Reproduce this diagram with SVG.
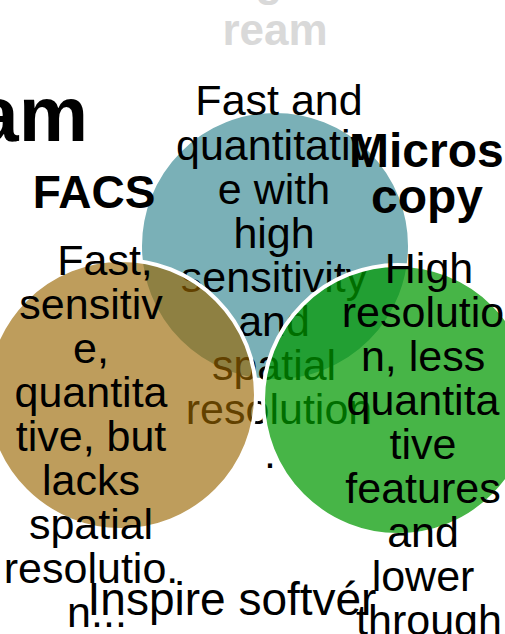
<svg xmlns="http://www.w3.org/2000/svg" width="505" height="634" viewBox="0 0 505 634">
<style>
  .t { font-family: "Liberation Sans", Arial, sans-serif; font-size: 43px; fill: #000; text-anchor: middle; }
  .h { font-family: "Liberation Sans", Arial, sans-serif; font-weight: bold; fill: #000; text-anchor: middle; }
  .ring { stroke: #ffffff; stroke-width: 4; }
</style>
<rect width="505" height="634" fill="#ffffff"/>

<g id="title">
  <text class="h" x="269" y="-4" font-size="44" style="fill:#d9d9d9">g</text>
  <text class="h" x="275" y="45" font-size="44" style="fill:#d9d9d9">ream</text>
  <text class="h" x="88" y="141" font-size="78" style="text-anchor:end">am</text>
</g>

<g id="node-imaging">
  <circle class="ring" cx="275" cy="246" r="135" fill="#7ab0b7"/>
  <text class="t">
    <tspan x="285" y="115">Fast and</tspan>
    <tspan x="280" y="160">quantitativ</tspan>
    <tspan x="280" y="204">e with</tspan>
    <tspan x="280" y="248">high</tspan>
    <tspan x="280" y="292">sensitivity</tspan>
    <tspan x="280" y="336">and</tspan>
    <tspan x="280" y="380">spatial</tspan>
    <tspan x="279" y="424">resolution</tspan>
  </text>
  <text class="t" x="264" y="468" style="text-anchor:start">.</text>
</g>

<g id="node-facs">
  <circle class="ring" cx="121" cy="395" r="135" fill="#996600" fill-opacity="0.64"/>
  <text class="t">
    <tspan x="111" y="275">Fast,</tspan>
    <tspan x="97" y="319">sensitiv</tspan>
    <tspan x="97" y="363">e,</tspan>
    <tspan x="97" y="407">quantita</tspan>
    <tspan x="97" y="451">tive, but</tspan>
    <tspan x="97" y="495">lacks</tspan>
    <tspan x="97" y="539">spatial</tspan>
    <tspan x="97" y="583">resolutio.</tspan>
    <tspan x="97" y="627">n...</tspan>
  </text>
  <text class="h" x="94" y="208" font-size="46">FACS</text>
</g>

<g id="node-microscopy">
  <circle class="ring" cx="398" cy="400" r="135" fill="#009900" fill-opacity="0.72"/>
  <text class="t">
    <tspan x="435" y="283">High</tspan>
    <tspan x="429" y="327">resolutio</tspan>
    <tspan x="429" y="371">n, less</tspan>
    <tspan x="429" y="415">quantita</tspan>
    <tspan x="429" y="459">tive</tspan>
    <tspan x="429" y="503">features</tspan>
    <tspan x="429" y="547">and</tspan>
    <tspan x="429" y="591">lower</tspan>
    <tspan x="429" y="635">through</tspan>
  </text>
  <text class="h" font-size="48">
    <tspan x="433" y="167">Micros</tspan>
    <tspan x="427" y="213">copy</tspan>
  </text>
</g>

<g id="node-software">
  <text class="t" x="232" y="615" style="font-size:46px">Inspire softvér</text>
</g>

<g id="connectors"></g>
</svg>
